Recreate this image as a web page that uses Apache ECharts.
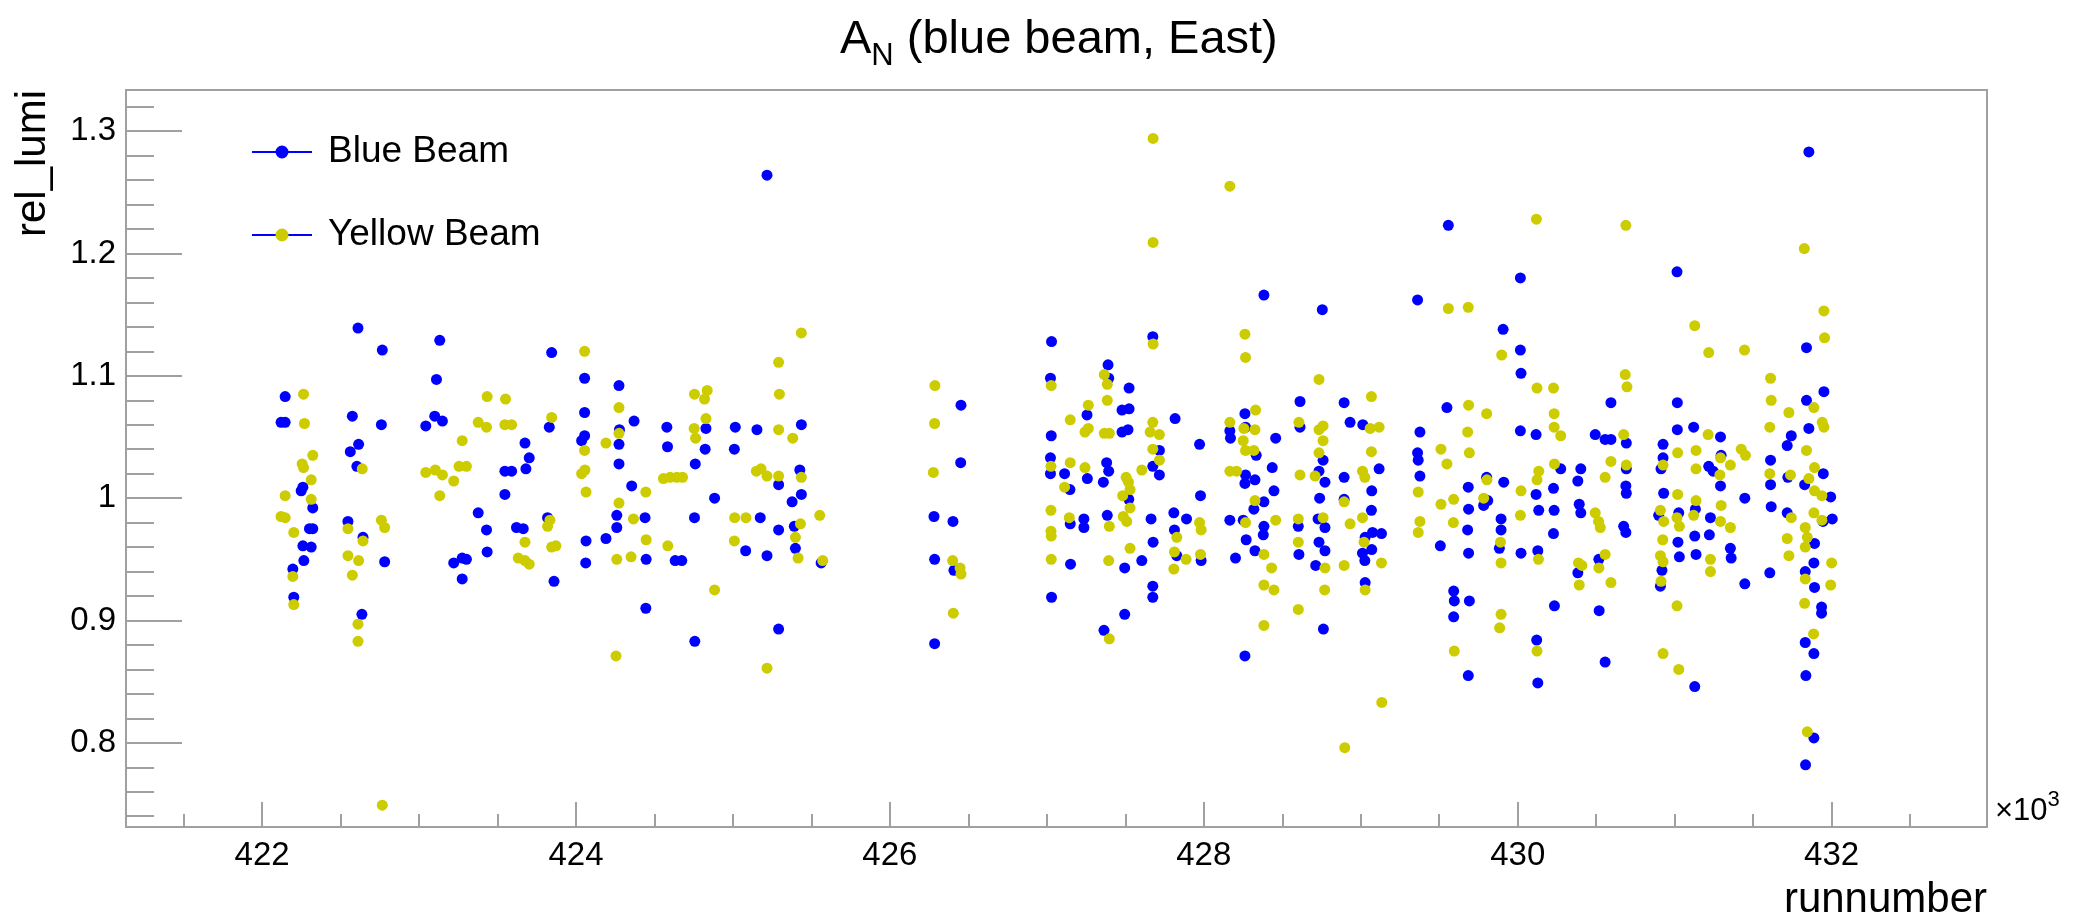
<!DOCTYPE html>
<html>
<head>
<meta charset="utf-8">
<script src="https://cdn.jsdelivr.net/npm/echarts@6/dist/echarts.min.js"></script>
<style>
html,body{margin:0;padding:0;background:#fff;}
#chart{width:2079px;height:923px;}
</style>
</head>
<body>
<div id="chart"></div>
<script>
// ---------- data (run number, rel_lumi) ----------
const blueRuns = [
422147,422121,422147,422260,422249,422323,422302,422323,422260,422313,422266,422196,422202,
422611,422766,422575,422615,422562,422604,422547,422643,422636,422760,422781,
423132,423111,423100,423149,423043,423377,423430,423434,423221,423275,423302,423275,
423675,423702,423681,423547,423590,423547,423621,423664,423845,423830,423819,423860,
425217,424055,424055,424055,424036,424274,424277,424274,424274,424370,424355,424260,424260,
424191,424064,424062,424440,424447,424445,424579,424583,424632,424674,424828,424760,424823,
424755,424883,424757,425015,425009,425153,425174,425081,425217,425291,425291,425291,
425436,425426,425436,425377,425391,425398,425562,
426281,426285,426285,426453,426451,426402,426408,
427030,427023,427028,427023,427023,427030,427113,427147,427149,427151,427256,427258,427236,
427236,427390,427394,427381,427394,427360,427385,427364,427524,427479,427524,427479,427517,
427522,427496,427496,427605,427675,427717,427675,427717,427664,427677,427675,427675,427817,
427809,427890,427813,427828,427973,427979,427983,
428170,428166,428166,428202,428262,428266,428266,428262,428326,428334,428319,428251,428383,
428270,428326,428383,428379,428383,428436,428458,428447,428262,428613,428613,428755,428760,
428734,428772,428738,428728,428772,428602,428606,428734,428772,428713,428762,428894,428932,
429013,428894,428894,429070,429117,429068,429075,429132,429028,429011,429026,429070,429028,
429362,429377,429362,429366,429377,429507,429558,429549,429592,429596,429592,429685,429687,
429681,429687,429692,429685,429802,429783,429809,429907,429911,429894,429894,429883,
430017,430017,430021,430017,430021,430117,430117,430134,430128,430121,430128,
430228,430232,430228,430234,430274,430402,430383,430392,430402,430383,430517,430519,430557,
430594,430494,430557,430594,430692,430692,430689,430692,430675,430689,431015,431017,431017,
430926,430926,430913,430930,430898,431026,431021,431030,430919,430909,431121,431132,431128,
431136,431128,431217,431245,431292,431296,431292,431228,431221,431355,431360,431447,431447,
431611,431611,431615,431606,431717,431743,431721,431717,431855,431840,431840,431855,431951,
431828,431947,431994,432004,431945,431891,431887,431832,431891,431936,431936,431832,431887,
431836,431887,431834
];
const blueRelLumi = [
1.083,1.062,1.062,1.009,1.006,0.992,0.975,0.975,0.961,0.960,0.949,0.942,0.919,
1.139,1.121,1.067,1.044,1.038,1.026,0.981,0.968,0.905,1.060,0.948,
1.129,1.097,1.067,1.063,1.059,0.988,0.974,0.956,0.947,0.951,0.950,0.934,
1.045,1.033,1.024,1.022,1.022,1.003,0.976,0.975,1.119,1.058,0.984,0.932,
1.264,1.098,1.070,1.051,1.047,1.092,1.056,1.044,1.028,1.063,1.010,0.986,0.976,
0.967,0.965,0.947,0.984,0.950,0.910,1.058,1.042,0.949,0.949,1.057,1.028,1.040,
0.984,1.000,0.883,1.058,1.040,1.056,0.984,0.957,0.953,1.011,0.974,0.893,
1.060,1.023,1.003,0.997,0.977,0.959,0.947,
0.985,0.950,0.881,1.076,1.029,0.981,0.941,
1.128,1.098,1.051,1.033,1.020,0.919,1.020,1.007,0.979,0.946,1.068,1.016,0.983,
0.976,1.109,1.098,1.029,1.022,1.013,0.986,0.892,1.090,1.072,1.073,1.054,1.056,
0.999,0.943,0.905,0.949,1.132,1.039,1.026,1.019,0.983,0.964,0.928,0.919,1.065,
0.988,0.983,0.974,0.953,1.044,1.002,0.949,
1.049,1.055,0.982,0.951,1.069,1.058,1.019,1.012,1.015,1.035,0.991,0.982,0.997,
0.966,0.957,0.977,0.970,1.166,1.025,1.049,1.006,0.871,1.079,1.058,1.154,1.031,
1.022,1.013,1.000,0.983,0.976,0.977,0.954,0.964,0.957,0.945,0.893,1.078,1.062,
1.060,1.017,0.999,1.006,1.024,0.990,0.972,0.971,0.968,0.955,0.949,0.958,0.931,
1.162,1.054,1.037,1.031,1.018,0.961,1.223,1.074,0.924,0.916,0.903,1.009,0.991,
0.974,0.955,0.916,0.855,1.017,0.994,0.998,1.138,1.013,0.983,0.974,0.959,
1.180,1.121,1.102,1.055,0.955,1.052,1.003,0.990,0.957,0.884,0.849,
1.008,0.990,0.971,0.912,1.024,1.024,1.014,0.995,0.988,0.939,0.950,0.908,0.866,
1.078,1.052,1.048,1.048,1.045,1.024,1.010,1.004,0.977,0.972,1.185,1.078,1.056,
1.044,1.033,1.024,1.004,0.986,0.988,0.964,0.952,0.941,0.928,1.058,0.991,0.969,
0.954,0.846,1.026,1.022,1.050,1.035,1.010,0.984,0.970,0.959,0.951,1.000,0.930,
1.031,1.011,0.993,0.939,1.043,1.051,1.017,0.988,1.283,1.123,1.080,1.057,1.087,
1.011,1.020,1.001,0.983,0.981,0.963,0.947,0.940,0.927,0.911,0.906,0.882,0.873,
0.855,0.804,0.782
];
const yellowRuns = [
422264,422270,422323,422255,422264,422313,422147,422313,422121,422147,422202,422196,422202,
422547,422638,422547,422615,422575,422643,422611,422611,422760,422781,422766,
423043,423104,423149,423132,423221,423275,423255,423302,423377,423430,423434,423551,423547,
423590,423675,423632,423675,423702,423845,423834,423819,423845,423872,
424055,424055,424057,424036,424064,424191,424274,424274,424274,424366,424260,424351,424255,
424445,424447,424585,424557,424600,424643,424679,424755,424836,424819,424828,424753,424762,
424883,425011,425083,425009,425149,425179,425217,425291,425296,425291,425381,425436,425436,
425291,425430,425398,425415,425553,425572,425217,
426287,426285,426277,426400,426447,426453,426404,
427677,427677,427677,427028,427149,427264,427243,427264,427366,427385,427385,427366,427398,
427026,427149,427243,427113,427026,427026,427028,427028,427143,427398,427394,427398,
427505,427520,427530,427483,427530,427487,427509,427530,427605,427675,427658,427717,427675,
427717,427828,427813,427809,427887,427973,427983,427979,
428166,428262,428266,428166,428330,428255,428326,428251,428266,428319,428166,428209,428326,
428266,428458,428383,428432,428383,428447,428383,428606,428734,428760,428734,428760,428734,
428613,428709,428602,428760,428602,428772,428770,428602,428894,428932,428894,428898,
429068,429060,429117,429068,429011,429026,429011,429021,429028,429132,429134,
429366,429377,429366,429511,429549,429511,429592,429590,429596,429558,429685,429687,429681,
429692,429802,429783,429804,429898,429890,429894,429894,429885,
430021,430017,430119,430123,430134,430123,430132,430123,
430228,430232,430232,430274,430234,430387,430409,430392,430494,430515,430526,430557,430517,
430594,430557,430594,430689,430685,430696,430675,430692,430926,430909,430930,430924,430909,
430926,430913,430926,431019,431019,431015,431030,431015,431026,431128,431217,431445,431136,
431136,431136,431121,431213,431292,431288,431355,431296,431292,431355,431228,431228,431424,
431451,431611,431615,431606,431606,431728,431738,431743,431717,431728,431826,431951,431955,
431887,431940,431951,431840,431891,431855,431891,431938,431887,431938,431832,431845,431832,
431832,431828,431885,432000,431994,431845
];
const yellowRelLumi = [
1.085,1.061,1.035,1.028,1.025,1.015,1.002,0.999,0.985,0.984,0.972,0.936,0.913,
0.975,1.024,0.953,0.949,0.937,0.965,0.897,0.883,0.982,0.976,0.749,
1.021,1.023,1.019,1.002,1.014,1.047,1.026,1.026,1.062,1.058,1.083,1.081,1.060,
1.060,0.964,0.951,0.949,0.946,1.066,0.982,0.977,0.960,0.961,
1.120,1.039,1.023,1.020,1.005,1.045,1.074,1.053,0.996,0.983,0.950,0.952,0.871,
1.005,0.966,0.961,1.016,1.017,1.017,1.017,1.085,1.088,1.081,1.065,1.057,1.049,
0.925,0.984,0.984,0.965,1.022,1.024,1.018,1.111,1.085,1.056,1.049,1.135,1.017,
1.018,0.979,0.968,0.951,0.986,0.949,0.861,
1.092,1.061,1.021,0.949,0.943,0.938,0.906,
1.294,1.209,1.126,1.092,1.064,1.076,1.054,1.057,1.101,1.093,1.080,1.053,1.053,
1.026,1.029,1.025,1.009,0.990,0.973,0.969,0.950,0.984,0.977,0.949,0.885,
1.017,1.013,1.007,1.002,0.992,0.985,0.981,0.959,1.023,1.062,1.054,1.052,1.040,
1.031,0.968,0.956,0.942,0.950,0.980,0.974,0.954,
1.255,1.134,1.115,1.062,1.072,1.057,1.056,1.047,1.039,1.039,1.022,1.022,0.998,
0.980,0.982,0.954,0.943,0.929,0.925,0.896,1.062,1.097,1.059,1.056,1.047,1.037,
1.019,1.018,0.983,0.984,0.964,0.943,0.925,0.909,0.997,0.979,0.945,0.796,
1.083,1.057,1.058,1.038,1.022,1.017,0.984,0.964,0.925,0.947,0.833,
1.005,0.981,0.972,1.040,1.028,0.995,0.999,0.980,0.875,1.155,1.156,1.076,1.054,
1.037,1.069,1.000,1.015,1.117,0.964,0.947,0.905,0.894,
1.006,0.986,1.228,1.090,1.022,1.015,0.950,0.875,
1.090,1.069,1.058,1.051,1.028,0.947,0.945,0.929,0.988,0.981,0.976,0.954,0.943,
0.931,1.017,1.030,1.223,1.101,1.091,1.052,1.027,1.027,0.990,0.981,0.966,0.953,
0.948,0.932,0.873,1.037,1.003,0.984,0.977,0.912,0.860,1.141,1.119,1.121,1.039,
1.024,0.998,0.986,1.052,1.033,1.019,1.027,0.994,0.981,0.976,0.950,0.940,1.040,
1.035,1.098,1.080,1.058,1.020,1.070,1.019,0.984,0.967,0.953,1.204,1.153,1.131,
1.074,1.062,1.058,1.039,1.025,1.016,1.006,1.002,0.988,0.982,0.976,0.968,0.960,
0.934,0.914,0.889,0.947,0.929,0.809
];

// ---------- axes ----------
const xRange = [421133, 432990];
const yRange = [0.7312, 1.3336];
const xMajorTicks = [422000, 424000, 426000, 428000, 430000, 432000];
const xMinorTicks = [];
for (let k = 0; k <= 22; k++) xMinorTicks.push(421500 + 500 * k);
const yMajorTicks = [0.8, 0.9, 1.0, 1.1, 1.2, 1.3];
const yMinorTicks = [];
for (let k = 0; k <= 29; k++) yMinorTicks.push(Math.round((0.74 + 0.02 * k) * 1000) / 1000);

const FONT = 'Liberation Sans';
const GRAY = '#a0a0a0';
const zip = (xs, ys) => xs.map((x, i) => [x, ys[i]]);

const chart = echarts.init(document.getElementById('chart'), null, {renderer: 'canvas'});
chart.setOption({
  animation: false,
  backgroundColor: '#ffffff',
  textStyle: {fontFamily: FONT},
  title: {
    text: '{a|A}{n|N}{a| (blue beam, East)}',
    left: 840, top: 17, padding: 0,
    textStyle: {
      fontWeight: 'normal',
      rich: {
        a: {fontSize: 47, fontWeight: 'normal', fontFamily: FONT, color: '#000', lineHeight: 50, verticalAlign: 'top'},
        n: {fontSize: 31, fontWeight: 'normal', fontFamily: FONT, color: '#000', lineHeight: 31, verticalAlign: 'top', padding: [24, 0, 0, 0]}
      }
    }
  },
  legend: [
    {
      orient: 'vertical', left: 252, top: 132, padding: 0,
      itemWidth: 60, itemHeight: 20, itemGap: 43,
      icon: 'path://M0,9L60,9L60,11L0,11Z',
      selectedMode: false,
      textStyle: {fontSize: 37, lineHeight: 40, color: '#000', fontFamily: FONT, padding: [0, 0, 0, 11]},
      data: [
        {name: 'Blue Beam', itemStyle: {color: '#0000ff'}},
        {name: 'Yellow Beam', itemStyle: {color: '#0000ff'}}
      ]
    },
    {
      orient: 'vertical', left: 252, top: 132, padding: 0, z: 10,
      itemWidth: 60, itemHeight: 13, itemGap: 43,
      icon: 'path://M0,6.5L0.01,6.5M60,6.5L59.99,6.5M36.5,6.5A6.5,6.5,0,1,1,23.5,6.5A6.5,6.5,0,1,1,36.5,6.5Z',
      selectedMode: false,
      textStyle: {fontSize: 37, lineHeight: 40, color: 'rgba(0,0,0,0)', fontFamily: FONT, padding: [0, 0, 0, 11]},
      data: ['Blue Beam', 'Yellow Beam']
    }
  ],
  grid: {
    left: 126, right: 92, top: 90, bottom: 96,
    show: true, borderColor: GRAY, borderWidth: 2, backgroundColor: 'transparent'
  },
  xAxis: [
    {
      type: 'value', min: xRange[0], max: xRange[1], position: 'bottom',
      splitLine: {show: false},
      axisLine: {show: true, lineStyle: {color: GRAY, width: 2}},
      axisTick: {show: true, inside: true, length: 25, customValues: xMajorTicks, lineStyle: {color: GRAY, width: 2}},
      axisLabel: {show: true, customValues: xMajorTicks, margin: 12, fontSize: 33, color: '#000', fontFamily: FONT,
        formatter: v => String(Math.round(v / 1000))},
      name: '{a|×10}{s|3}', nameLocation: 'end', nameGap: 8,
      nameTextStyle: {
        align: 'left', verticalAlign: 'bottom',
        rich: {
          a: {fontSize: 31, fontFamily: FONT, color: '#000', lineHeight: 38, verticalAlign: 'bottom'},
          s: {fontSize: 22, fontFamily: FONT, color: '#000', lineHeight: 22, verticalAlign: 'top'}
        }
      }
    },
    {
      type: 'value', min: xRange[0], max: xRange[1], position: 'bottom',
      splitLine: {show: false},
      axisLine: {show: false},
      axisTick: {show: true, inside: true, length: 13, customValues: xMinorTicks, lineStyle: {color: GRAY, width: 2}},
      axisLabel: {show: false},
      name: 'runnumber', nameLocation: 'end', nameGap: 0,
      nameTextStyle: {align: 'right', verticalAlign: 'top', padding: [52, 0, 0, 0], fontSize: 42, color: '#000', fontFamily: FONT}
    }
  ],
  yAxis: [
    {
      type: 'value', min: yRange[0], max: yRange[1], position: 'left',
      splitLine: {show: false},
      axisLine: {show: true, lineStyle: {color: GRAY, width: 2}},
      axisTick: {show: true, inside: true, length: 56, customValues: yMajorTicks, lineStyle: {color: GRAY, width: 2}},
      axisLabel: {show: true, customValues: yMajorTicks, margin: 10, fontSize: 33, color: '#000', fontFamily: FONT,
        formatter: v => String(parseFloat(Number(v).toFixed(2)))},
      name: 'rel_lumi', nameLocation: 'end', nameGap: 0, nameRotate: 90,
      nameTextStyle: {align: 'right', verticalAlign: 'bottom', padding: [0, 0, 72, 0], fontSize: 42, color: '#000', fontFamily: FONT}
    },
    {
      type: 'value', min: yRange[0], max: yRange[1], position: 'left',
      splitLine: {show: false},
      axisLine: {show: false},
      axisTick: {show: true, inside: true, length: 28, customValues: yMinorTicks, lineStyle: {color: GRAY, width: 2}},
      axisLabel: {show: false}
    }
  ],
  series: [
    {
      name: 'Blue Beam', type: 'scatter', xAxisIndex: 0, yAxisIndex: 0,
      symbol: 'circle', symbolSize: 11,
      itemStyle: {color: '#0000ff', opacity: 1},
      data: zip(blueRuns, blueRelLumi)
    },
    {
      name: 'Yellow Beam', type: 'scatter', xAxisIndex: 0, yAxisIndex: 0,
      symbol: 'circle', symbolSize: 11,
      itemStyle: {color: '#cccc00', opacity: 1},
      data: zip(yellowRuns, yellowRelLumi)
    }
  ]
});
</script>
</body>
</html>
